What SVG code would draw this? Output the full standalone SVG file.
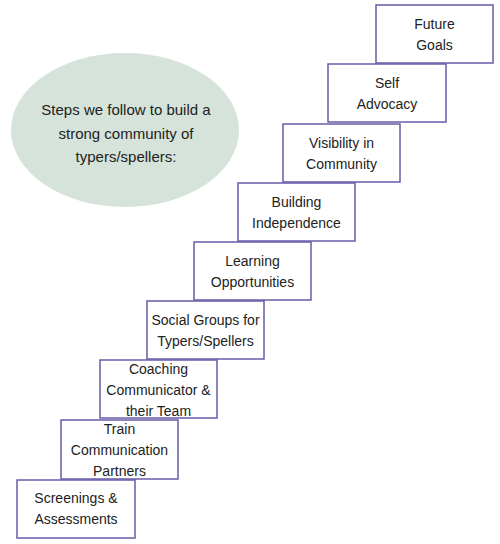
<svg xmlns="http://www.w3.org/2000/svg" width="500" height="544" viewBox="0 0 500 544">
<style>
.box{fill:#ffffff;stroke:#6a5ca8;stroke-width:1.5}
.t{font-family:"Liberation Sans",Arial,sans-serif;font-size:14px;fill:#222;text-anchor:middle}
.e{font-family:"Liberation Sans",Arial,sans-serif;font-size:15px;fill:#222;text-anchor:middle}
</style>
<rect width="500" height="544" fill="#ffffff"/>
<g id="intro">
<ellipse cx="125" cy="130" rx="114" ry="77" fill="#d5e3da"/>
<text class="e" x="126" y="115">Steps we follow to build a</text>
<text class="e" x="126" y="139">strong community of</text>
<text class="e" x="126" y="162">typers/spellers:</text>
</g>
<g id="connectors"></g>
<g id="step1">
<rect class="box" x="17" y="480" width="118" height="58"/>
<text class="t" x="76" y="503">Screenings &amp;</text>
<text class="t" x="76" y="524">Assessments</text>
</g>
<g id="step2">
<rect class="box" x="61" y="420" width="117" height="59"/>
<text class="t" x="119.5" y="434">Train</text>
<text class="t" x="119.5" y="455">Communication</text>
<text class="t" x="119.5" y="476">Partners</text>
</g>
<g id="step3">
<rect class="box" x="100" y="360" width="117" height="58"/>
<text class="t" x="158.5" y="374">Coaching</text>
<text class="t" x="158.5" y="395">Communicator &amp;</text>
<text class="t" x="158.5" y="416">their Team</text>
</g>
<g id="step4">
<rect class="box" x="147" y="301" width="117" height="58"/>
<text class="t" x="205.5" y="325">Social Groups for</text>
<text class="t" x="205.5" y="346">Typers/Spellers</text>
</g>
<g id="step5">
<rect class="box" x="194" y="242" width="117" height="58"/>
<text class="t" x="252.5" y="266">Learning</text>
<text class="t" x="252.5" y="287">Opportunities</text>
</g>
<g id="step6">
<rect class="box" x="238" y="183" width="117" height="58"/>
<text class="t" x="296.5" y="207">Building</text>
<text class="t" x="296.5" y="228">Independence</text>
</g>
<g id="step7">
<rect class="box" x="283" y="124" width="117" height="58"/>
<text class="t" x="341.5" y="148">Visibility in</text>
<text class="t" x="341.5" y="169">Community</text>
</g>
<g id="step8">
<rect class="box" x="328" y="64" width="118" height="58"/>
<text class="t" x="387" y="88">Self</text>
<text class="t" x="387" y="109">Advocacy</text>
</g>
<g id="step9">
<rect class="box" x="376" y="5" width="117" height="58"/>
<text class="t" x="434.5" y="29">Future</text>
<text class="t" x="434.5" y="50">Goals</text>
</g>
</svg>
